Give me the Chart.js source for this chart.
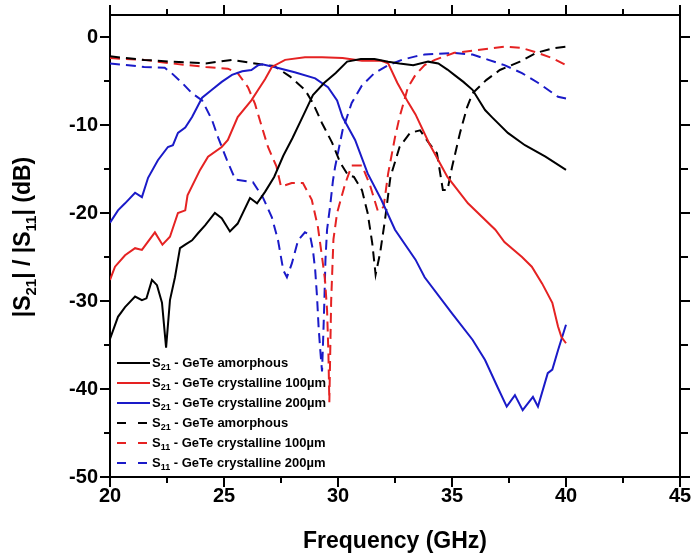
<!DOCTYPE html>
<html>
<head>
<meta charset="utf-8">
<script src="https://cdn.jsdelivr.net/npm/chart.js@4.4.0/dist/chart.umd.min.js"></script>
<style>
  html, body { margin: 0; padding: 0; background: #fff; }
</style>
</head>
<body>
<canvas id="SParams" width="696" height="559"></canvas>
<script>
const FONT = '"Liberation Sans", Arial, sans-serif';

// axes
const xTicks = [20, 25, 30, 35, 40, 45];
const xMinor = [22.5, 27.5, 32.5, 37.5, 42.5];
const yTicks = [-50, -40, -30, -20, -10, 0];
const yMinor = [-45, -35, -25, -15, -5];

// S21 - GeTe amorphous (solid black)
const s21AmFreq = [20, 20.35, 20.66, 21.1, 21.4, 21.6, 21.84, 22.06, 22.28, 22.46, 22.63, 22.85, 23.07, 23.3, 23.6, 23.86, 24.17, 24.6, 24.9, 25.26, 25.6, 26.14, 26.45, 26.8, 27.2, 27.6, 28.0, 28.5, 28.9, 29.4, 29.9, 30.4, 31.0, 31.6, 32.2, 32.7, 33.3, 33.95, 34.4, 34.8, 35.1, 35.5, 35.9, 36.45, 36.75, 37.45, 38.2, 39.1, 40.0];
const s21AmDb = [-34.3, -31.8, -30.7, -29.5, -29.9, -29.7, -27.6, -28.2, -30.2, -35.3, -29.9, -27.3, -24.0, -23.6, -23.1, -22.3, -21.4, -20.0, -20.6, -22.1, -21.2, -18.3, -18.9, -17.6, -15.9, -13.5, -11.5, -8.8, -6.6, -5.2, -4.1, -2.8, -2.5, -2.5, -2.8, -3.0, -3.2, -2.8, -3.0, -3.7, -4.3, -5.1, -6.0, -8.3, -9.1, -10.9, -12.3, -13.6, -15.1];

// S21 - GeTe crystalline 100um (solid red)
const s21C100Freq = [20, 20.22, 20.66, 21.1, 21.4, 21.97, 22.3, 22.63, 22.98, 23.3, 23.4, 23.95, 24.3, 24.9, 25.17, 25.6, 26.2, 26.5, 26.8, 27.1, 27.68, 28.55, 29.3, 30.2, 31.05, 31.9, 32.2, 32.6, 33.07, 33.4, 34.0, 34.8, 35.7, 36.9, 37.3, 38.07, 38.5, 38.95, 39.4, 39.65, 39.8, 40.0];
const s21C100Db = [-27.6, -26.1, -24.8, -24.0, -24.2, -22.2, -23.6, -22.7, -20.0, -19.7, -18.0, -15.1, -13.6, -12.5, -11.7, -9.1, -7.2, -6.0, -4.8, -3.4, -2.6, -2.3, -2.3, -2.4, -2.7, -2.7, -3.0, -5.2, -7.4, -8.8, -12.1, -15.9, -18.9, -21.9, -23.3, -25.0, -26.1, -28.0, -30.2, -32.9, -34.1, -34.8];

// S21 - GeTe crystalline 200um (solid blue)
const s21C200Freq = [20, 20.35, 20.66, 21.1, 21.4, 21.67, 22.1, 22.54, 22.76, 22.98, 23.3, 23.6, 24.04, 24.47, 24.9, 25.35, 25.8, 26.2, 26.5, 26.67, 27.2, 28.1, 29.0, 29.56, 29.96, 30.2, 30.75, 31.3, 31.9, 32.5, 33.4, 33.8, 35.0, 35.9, 36.45, 37.0, 37.4, 37.76, 38.1, 38.55, 38.77, 39.2, 39.4, 39.65, 40.0];
const s21C200Db = [-21.1, -19.7, -18.9, -17.7, -18.2, -16.0, -14.0, -12.5, -12.3, -10.9, -10.3, -9.1, -6.9, -6.0, -5.1, -4.3, -3.9, -3.75, -3.2, -3.1, -3.4, -4.0, -4.7, -5.7, -7.2, -9.1, -11.7, -15.5, -18.5, -21.9, -25.3, -27.3, -31.4, -34.4, -36.7, -39.8, -42.0, -40.7, -42.4, -40.9, -42.0, -38.2, -37.8, -35.6, -32.7];

// S11 - GeTe amorphous (dashed black)
const s11AmFreq = [20, 21.5, 22.7, 24.2, 25.35, 26.6, 27.2, 27.9, 28.55, 28.9, 29.3, 29.74, 30.1, 30.44, 30.7, 31.05, 31.3, 31.5, 31.65, 31.85, 32.06, 32.3, 32.7, 33.16, 33.6, 34.0, 34.34, 34.6, 34.8, 35.0, 35.35, 35.66, 35.9, 36.5, 37.1, 37.98, 38.7, 39.4, 40.0];
const s11AmDb = [-2.2, -2.6, -2.8, -3.0, -2.6, -3.1, -3.3, -4.5, -6.0, -7.5, -9.8, -12.0, -14.3, -15.7, -15.9, -17.4, -20.0, -23.4, -27.0, -24.5, -20.8, -15.9, -12.5, -10.9, -10.6, -12.1, -13.2, -17.4, -17.4, -14.8, -10.9, -8.0, -6.4, -4.9, -3.75, -2.8, -1.8, -1.3, -1.1];

// S11 - GeTe crystalline 100um (dashed red)
const s11C100Freq = [20, 21.5, 22.7, 24.2, 25.17, 25.6, 26.05, 26.36, 26.67, 26.93, 27.3, 27.5, 27.97, 28.46, 28.85, 29.12, 29.3, 29.43, 29.52, 29.58, 29.62, 29.7, 29.8, 29.96, 30.3, 30.6, 31.05, 31.4, 31.75, 32.0, 32.2, 32.5, 32.7, 33.07, 33.4, 33.8, 34.25, 35.1, 36.1, 37.3, 38.07, 38.64, 39.4, 40.0];
const s11C100Db = [-2.4, -2.6, -3.0, -3.4, -3.6, -4.1, -5.7, -7.6, -10.3, -12.5, -14.7, -17.0, -16.6, -16.6, -18.5, -21.6, -25.0, -27.6, -31.0, -36.0, -41.5, -30.0, -23.0, -20.0, -16.8, -14.6, -14.6, -16.8, -19.8, -19.3, -15.5, -11.4, -9.1, -5.7, -4.3, -3.2, -2.6, -1.8, -1.5, -1.1, -1.25, -1.7, -2.4, -3.2];

// S11 - GeTe crystalline 200um (dashed blue)
const s11C200Freq = [20, 21.5, 22.4, 22.7, 23.16, 23.6, 24.04, 24.47, 24.74, 25.13, 25.5, 26.27, 26.7, 27.1, 27.37, 27.6, 27.76, 27.98, 28.25, 28.55, 28.77, 28.9, 29.0, 29.08, 29.15, 29.22, 29.3, 29.36, 29.4, 29.45, 29.52, 29.65, 29.78, 29.87, 30.2, 30.6, 31.05, 31.6, 32.2, 32.8, 33.4, 33.8, 35.1, 35.9, 36.6, 37.3, 38.07, 38.77, 39.65, 40.0];
const s11C200Db = [-3.0, -3.4, -3.5, -4.1, -5.2, -6.4, -7.2, -9.4, -11.4, -14.0, -16.2, -16.5, -18.2, -20.5, -23.1, -26.5, -27.3, -25.7, -23.1, -22.2, -22.5, -24.2, -26.5, -29.5, -33.0, -35.5, -38.0, -33.5, -30.2, -25.3, -21.9, -19.3, -16.3, -14.8, -10.6, -7.5, -5.5, -4.1, -3.2, -2.6, -2.2, -2.0, -1.8, -2.0, -2.6, -3.2, -4.1, -5.2, -6.8, -7.0];

// legend: "S" + subscript + rest (4th label kept as in the original figure)
const legendSub = ['21', '21', '21', '21', '11', '11'];
const legendRest = [' - GeTe amorphous', ' - GeTe crystalline 100\u00b5m', ' - GeTe crystalline 200\u00b5m',
                    ' - GeTe amorphous', ' - GeTe crystalline 100\u00b5m', ' - GeTe crystalline 200\u00b5m'];

const BLACK = '#000000';
const RED = '#e52222';
const BLUE = '#1a1ac8';

const series = [
    { f: s21AmFreq, db: s21AmDb, color: BLACK, dash: [] },
    { f: s21C100Freq, db: s21C100Db, color: RED, dash: [] },
    { f: s21C200Freq, db: s21C200Db, color: BLUE, dash: [] },
    { f: s11AmFreq, db: s11AmDb, color: BLACK, dash: [10, 6] },
    { f: s11C100Freq, db: s11C100Db, color: RED, dash: [10, 6] },
    { f: s11C200Freq, db: s11C200Db, color: BLUE, dash: [10, 6] },
];

const datasets = series.map((s, i) => ({
    label: 'S' + legendSub[i] + legendRest[i],
    data: s.f.map((f, k) => ({ x: f, y: s.db[k] })),
    borderColor: s.color,
    borderWidth: 2,
    borderDash: s.dash,
    pointRadius: 0,
    tension: 0,
    fill: false
}));

// text with a subscript part
function drawParts(ctx, parts, x, y, size) {
    let cx = x;
    parts.forEach(([t, sub]) => {
        ctx.font = 'bold ' + (sub ? Math.round(size * 0.66) : size) + 'px ' + FONT;
        ctx.fillText(t, cx, sub ? y + size * 0.32 : y);
        cx += ctx.measureText(t).width;
    });
    return cx - x;
}
function partsWidth(ctx, parts, size) {
    let w = 0;
    parts.forEach(([t, sub]) => {
        ctx.font = 'bold ' + (sub ? Math.round(size * 0.66) : size) + 'px ' + FONT;
        w += ctx.measureText(t).width;
    });
    return w;
}

const extras = {
    id: 'extras',
    afterDraw(chart) {
        const { ctx, chartArea: a, scales: { x, y } } = chart;
        ctx.save();
        ctx.strokeStyle = BLACK;
        ctx.lineWidth = 2;
        // minor ticks on all four sides
        ctx.beginPath();
        xMinor.forEach(v => {
            const px = Math.round(x.getPixelForValue(v));
            ctx.moveTo(px, a.bottom); ctx.lineTo(px, a.bottom + 6);
            ctx.moveTo(px, a.top); ctx.lineTo(px, a.top - 6);
        });
        yMinor.forEach(v => {
            const py = Math.round(y.getPixelForValue(v));
            ctx.moveTo(a.left, py); ctx.lineTo(a.left - 6, py);
            ctx.moveTo(a.right, py); ctx.lineTo(a.right + 8, py);
        });
        ctx.stroke();

        // y axis title with subscripts
        ctx.fillStyle = BLACK;
        ctx.textBaseline = 'middle';
        ctx.textAlign = 'left';
        const title = [['|S', false], ['21', true], ['| / |S', false], ['11', true], ['| (dB)', false]];
        const tw = partsWidth(ctx, title, 23);
        ctx.save();
        ctx.translate(24, (a.top + a.bottom) / 2 - 9);
        ctx.rotate(-Math.PI / 2);
        drawParts(ctx, title, -tw / 2, 0, 23);
        ctx.restore();

        // legend inside the plot, bottom left
        const x0 = a.left + 7, y0 = a.bottom - 114, rowH = 20;
        series.forEach((s, i) => {
            const yy = y0 + i * rowH;
            ctx.strokeStyle = s.color;
            ctx.lineWidth = 2;
            ctx.setLineDash(s.dash.length ? [9, 12] : []);
            ctx.beginPath();
            ctx.moveTo(x0, yy); ctx.lineTo(x0 + 33, yy);
            ctx.stroke();
            ctx.setLineDash([]);
            ctx.fillStyle = BLACK;
            drawParts(ctx, [['S', false], [legendSub[i], true], [legendRest[i], false]], x0 + 35, yy, 13);
        });
        ctx.restore();
    }
};

const ctx = document.getElementById('SParams').getContext('2d');
Chart.defaults.font.family = FONT;
Chart.defaults.color = BLACK;

const axisGrid = { drawOnChartArea: false, drawTicks: true, tickLength: 10, color: BLACK, lineWidth: 2 };
const axisBorder = { display: true, color: BLACK, width: 2 };

new Chart(ctx, {
    type: 'line',
    data: { datasets: datasets },
    options: {
        responsive: false,
        animation: false,
        layout: { padding: 0 },
        plugins: { legend: { display: false }, tooltip: { enabled: false } },
        scales: {
            x: {
                type: 'linear', position: 'bottom', min: 20, max: 45,
                grid: axisGrid, border: axisBorder,
                afterBuildTicks: s => { s.ticks = xTicks.map(v => ({ value: v })); },
                ticks: { font: { size: 20, weight: 'bold' }, padding: -3, maxRotation: 0 },
                title: { display: true, text: 'Frequency (GHz)', font: { size: 23, weight: 'bold' }, padding: { top: 4, bottom: 4 } },
                afterFit: s => { s.height = 82; }
            },
            x2: {
                type: 'linear', position: 'top', min: 20, max: 45,
                grid: axisGrid, border: axisBorder,
                afterBuildTicks: s => { s.ticks = xTicks.map(v => ({ value: v })); },
                ticks: { display: false },
                afterFit: s => { s.height = 15; }
            },
            y: {
                type: 'linear', position: 'left', min: -50, max: 2.5,
                grid: axisGrid, border: axisBorder,
                afterBuildTicks: s => { s.ticks = yTicks.map(v => ({ value: v })); },
                ticks: { font: { size: 20, weight: 'bold' }, padding: 2 },
                afterFit: s => { s.width = 110; }
            },
            y2: {
                type: 'linear', position: 'right', min: -50, max: 2.5,
                grid: axisGrid, border: axisBorder,
                afterBuildTicks: s => { s.ticks = yTicks.map(v => ({ value: v })); },
                ticks: { display: false },
                afterFit: s => { s.width = 16; }
            }
        }
    },
    plugins: [extras]
});
</script>
</body>
</html>
